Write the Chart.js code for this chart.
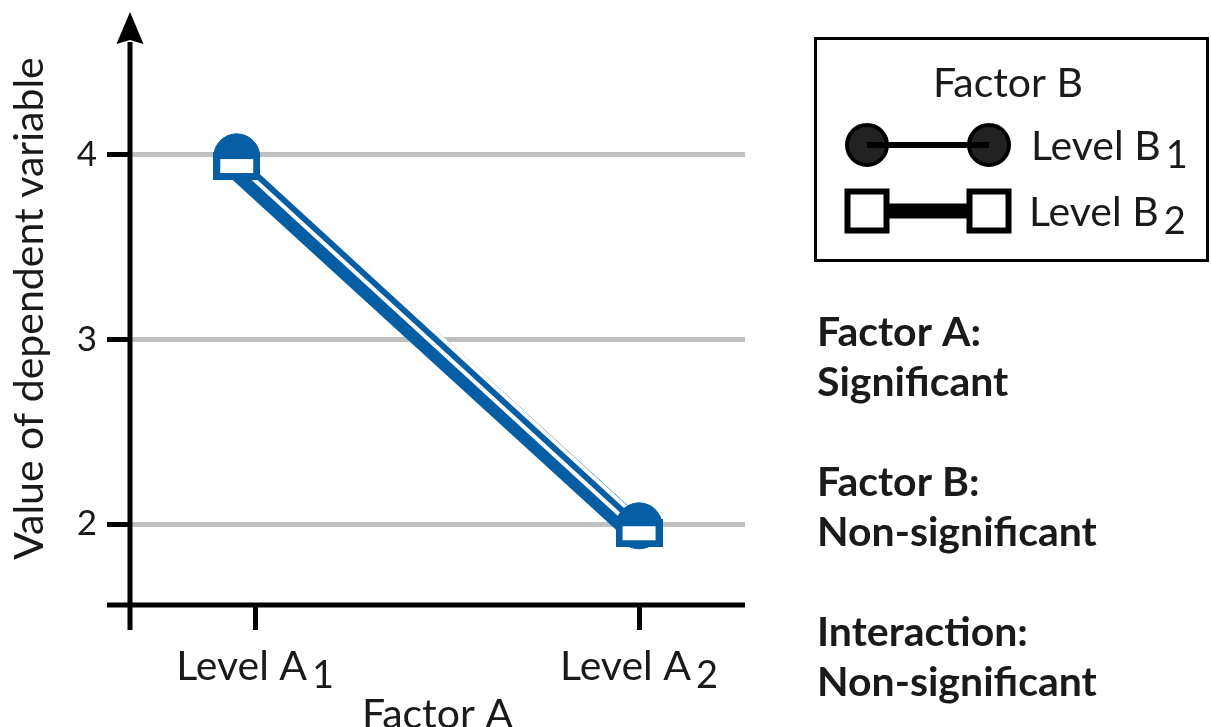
<!DOCTYPE html>
<html><head><meta charset="utf-8">
<script src="https://cdn.jsdelivr.net/npm/chart.js@4.4.0/dist/chart.umd.min.js"></script>
<style>html,body{margin:0;padding:0;background:#fff;overflow:hidden}canvas{display:block}</style>
</head><body>
<canvas id="c" width="1211" height="727"></canvas>
<script>
// ---- data ----
const categories = ['Level A₁', 'Level A₂'];
const categoryPositions = [1, 2];
const pointPositions = [0.952, 2.0];
const seriesB1 = [3.99, 1.99];
const seriesB2 = [3.94, 1.95];
const yTicks = [2, 3, 4];
const legendTitle = 'Factor B';
const seriesNames = ['Level B₁', 'Level B₂'];
const notes = [['Factor A:', 'Significant'], ['Factor B:', 'Non-significant'], ['Interaction:', 'Non-significant']];
const xTitle = 'Factor A';
const yTitle = 'Value of dependent variable';

// ---- style ----
const FONT = 'Lato, "Noto Sans", sans-serif';
const FS = 41;
const BLUE = '#055ea3';
const INK = '#1a1a1a';
const SUBS = {'₀':'0','₁':'1','₂':'2','₃':'3','₄':'4'};

function drawSub(ctx, text, x, y, align, bold) {
  const last = text.slice(-1);
  let main = text, sub = '';
  if (SUBS[last]) { main = text.slice(0, -1); sub = SUBS[last]; }
  const w = bold ? 'bold ' : '';
  ctx.font = w + FS + 'px ' + FONT;
  const mw = ctx.measureText(main).width;
  ctx.font = w + (FS - 3) + 'px ' + FONT;
  const gap = sub ? 5 : 0;
  const sw = sub ? ctx.measureText(sub).width : 0;
  const total = mw + gap + sw;
  let x0 = align === 'center' ? x - total / 2 : x;
  ctx.textAlign = 'left';
  ctx.textBaseline = 'alphabetic';
  ctx.fillStyle = INK;
  ctx.font = w + FS + 'px ' + FONT;
  ctx.fillText(main, x0, y);
  if (sub) {
    ctx.font = w + (FS - 3) + 'px ' + FONT;
    ctx.fillText(sub, x0 + mw + gap, y + 8);
  }
}

const rectImg = document.createElement('canvas');
rectImg.width = 47; rectImg.height = 28;
(function () {
  const g = rectImg.getContext('2d');
  g.fillStyle = BLUE; g.fillRect(0, 0, 47, 28);
  g.fillStyle = '#fff'; g.fillRect(7, 7, 33, 14);
})();

const toXY = vals => vals.map((v, i) => ({x: pointPositions[i], y: v}));

const decor = {
  id: 'decor',
  beforeDatasetsDraw(chart) {
    const ctx = chart.ctx, a = chart.chartArea;
    ctx.save();
    ctx.strokeStyle = '#000';
    ctx.lineWidth = 5;
    ctx.lineCap = 'butt';
    ctx.beginPath(); ctx.moveTo(a.left - 23, a.bottom); ctx.lineTo(a.right, a.bottom); ctx.stroke();
    ctx.beginPath(); ctx.moveTo(a.left, a.top + 30); ctx.lineTo(a.left, a.bottom + 25); ctx.stroke();
    ctx.fillStyle = '#000';
    ctx.beginPath();
    ctx.moveTo(a.left, a.top);
    ctx.lineTo(a.left + 13.5, a.top + 32);
    ctx.lineTo(a.left, a.top + 28);
    ctx.lineTo(a.left - 13.5, a.top + 32);
    ctx.closePath(); ctx.fill();
    ctx.restore();
  },
  afterDraw(chart) {
    const ctx = chart.ctx;
    const xs = chart.scales.x;
    ctx.save();
    categories.forEach((c, i) => {
      drawSub(ctx, c, xs.getPixelForValue(categoryPositions[i]), 680, 'center');
    });
    ctx.strokeStyle = '#000'; ctx.lineWidth = 3;
    ctx.strokeRect(815.5, 38.5, 392, 222);
    ctx.font = FS + 'px ' + FONT; ctx.fillStyle = INK; ctx.textAlign = 'center'; ctx.textBaseline = 'alphabetic';
    ctx.fillText(legendTitle, 1008, 97);
    const y1 = 145, y2 = 211, xa = 867, xb = 989;
    ctx.fillStyle = '#222'; ctx.strokeStyle = '#000'; ctx.lineWidth = 4;
    [xa, xb].forEach(x => { ctx.beginPath(); ctx.arc(x, y1, 20, 0, Math.PI * 2); ctx.fill(); ctx.stroke(); });
    ctx.lineWidth = 6; ctx.beginPath(); ctx.moveTo(xa, y1); ctx.lineTo(xb, y1); ctx.stroke();
    ctx.lineWidth = 15; ctx.beginPath(); ctx.moveTo(xa + 20, y2); ctx.lineTo(xb - 20, y2); ctx.stroke();
    ctx.lineWidth = 6; ctx.fillStyle = '#fff';
    [xa, xb].forEach(x => { ctx.fillRect(x - 19.5, y2 - 19.5, 39, 39); ctx.strokeRect(x - 19.5, y2 - 19.5, 39, 39); });
    drawSub(ctx, seriesNames[0], 1031, y1 + 15, 'left');
    drawSub(ctx, seriesNames[1], 1029, y2 + 15, 'left');
    const base = [346, 496, 646];
    notes.forEach((n, i) => {
      drawSub(ctx, n[0], 817, base[i], 'left', true);
      drawSub(ctx, n[1], 817, base[i] + 50, 'left', true);
    });
    ctx.restore();
  }
};

new Chart(document.getElementById('c'), {
  type: 'line',
  data: {
    datasets: [
      {label: 'B2 line', data: toXY(seriesB2), borderColor: BLUE, borderWidth: 26, pointRadius: 0, order: 4, borderCapStyle: 'butt'},
      {label: 'B1 halo', data: toXY(seriesB1), borderColor: '#fff', borderWidth: 14, pointRadius: 0, order: 3},
      {label: seriesNames[0], data: toXY(seriesB1), borderColor: BLUE, borderWidth: 6, pointStyle: 'circle', pointRadius: 23,
       pointBackgroundColor: BLUE, pointBorderColor: BLUE, pointBorderWidth: 1, order: 2},
      {label: seriesNames[1], data: toXY(seriesB2), showLine: false, pointStyle: rectImg, pointRadius: 24, order: 1}
    ]
  },
  options: {
    responsive: false, animation: false, devicePixelRatio: 1,
    layout: {autoPadding: false, padding: {top: 12, right: 466, left: 0, bottom: 0}},
    plugins: {legend: {display: false}, tooltip: {enabled: false}},
    elements: {line: {tension: 0}},
    clip: false,
    scales: {
      x: {
        type: 'linear', min: 0.674, max: 2.276,
        afterBuildTicks: s => { s.ticks = categoryPositions.map(v => ({value: v})); },
        afterFit: s => { s.height = 122; s.paddingLeft = 0; s.paddingRight = 0; },
        grid: {drawOnChartArea: false, drawTicks: true, tickColor: '#000', color: '#000', lineWidth: 5, tickLength: 25},
        border: {display: false},
        ticks: {display: false},
        title: {display: true, text: xTitle, font: {family: FONT, size: FS}, color: INK, padding: {top: 0, bottom: -12}}
      },
      y: {
        type: 'linear', min: 1.561, max: 4.775,
        afterBuildTicks: s => { s.ticks = yTicks.map(v => ({value: v})); },
        afterFit: s => { s.width = 130; s.paddingTop = 0; s.paddingBottom = 0; },
        grid: {color: '#c0c0c0', tickColor: '#000', lineWidth: 5, tickLength: 23, drawOnChartArea: true},
        border: {display: false},
        ticks: {font: {family: FONT, size: 35}, color: INK, padding: 10},
        title: {display: true, text: yTitle, font: {family: FONT, size: FS}, color: INK, padding: {top: 5, bottom: 0}}
      }
    }
  },
  plugins: [decor]
});
</script>
</body></html>
